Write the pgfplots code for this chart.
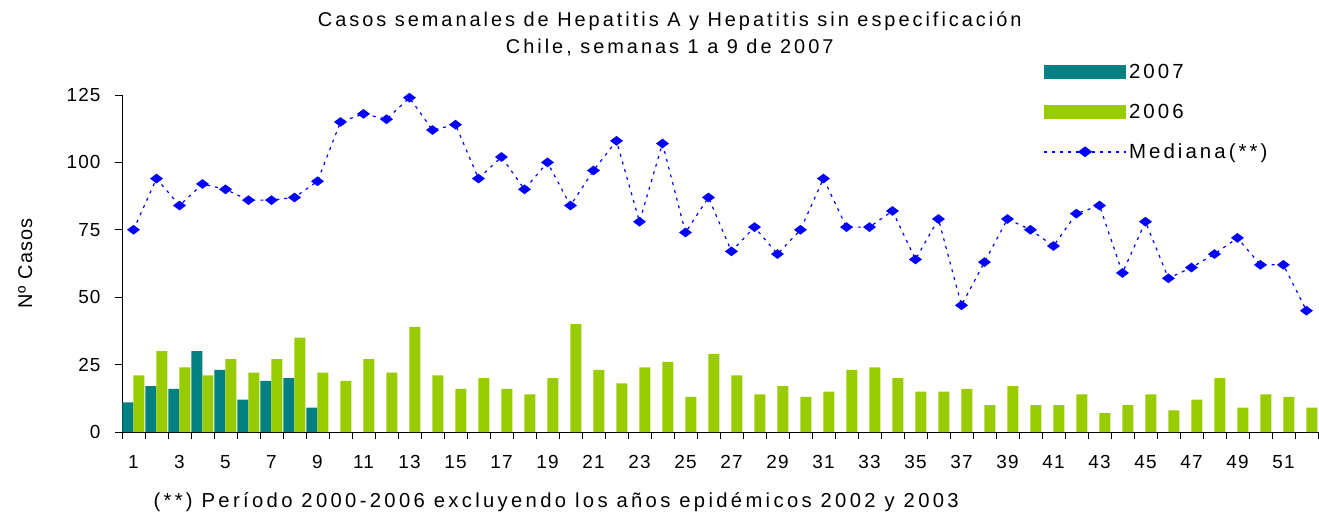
\documentclass[border=0pt]{standalone}
\usepackage{fontspec}
\setmainfont{Liberation Sans}[LetterSpace=6]
\newfontfamily\wide{Liberation Sans}[LetterSpace=15]
\newfontfamily\wider{Liberation Sans}[LetterSpace=16.5]
\usepackage{pgfplots}
\usepackage{pgfplotstable}
\pgfplotsset{compat=1.18}
\definecolor{c07}{HTML}{008080}
\definecolor{c06}{HTML}{99CC00}
\definecolor{cmed}{HTML}{0000FF}
\pgfplotsset{
  leg07/.style={legend image code/.code={\fill[c07] (0bp,-7bp) rectangle (82bp,7bp);}},
  leg06/.style={legend image code/.code={\fill[c06] (0bp,-7bp) rectangle (82bp,7bp);}},
  legmed/.style={legend image code/.code={\draw[mark repeat=2, mark phase=2, ##1, line width=2bp] plot coordinates {(0bp,0bp) (41bp,0bp) (82bp,0bp)};}},
}
\pgfplotstableread{
w y7
1 11
2 17
3 16
4 30
5 23
6 12
7 19
8 20
9 9
}\tsiete
\pgfplotstableread{
w y6 med
1 21 75
2 30 94
3 24 84
4 21 92
5 27 90
6 22 86
7 27 86
8 35 87
9 22 93
10 19 115
11 27 118
12 22 116
13 39 124
14 21 112
15 16 114
16 20 94
17 16 102
18 14 90
19 20 100
20 40 84
21 23 97
22 18 108
23 24 78
24 26 107
25 13 74
26 29 87
27 21 67
28 14 76
29 17 66
30 13 75
31 15 94
32 23 76
33 24 76
34 20 82
35 15 64
36 15 79
37 16 47
38 10 63
39 17 79
40 10 75
41 10 69
42 14 81
43 7 84
44 10 59
45 14 78
46 8 57
47 12 61
48 20 66
49 9 72
50 14 62
51 13 62
52 9 45
}\tseis
\begin{document}
\begin{tikzpicture}
\useasboundingbox (0,0) rectangle (1319bp,514bp);
\begin{axis}[
  at={(122bp,82bp)}, anchor=south west,
  scale only axis, width=1196bp, height=337bp,
  xmin=0.5, xmax=52.5, ymin=0, ymax=125,
  axis lines*=left, axis line style={line width=1bp},
  clip=false,
  xtick={0.5,1.5,...,52.5}, xticklabels={},
  extra x ticks={1,3,...,51},
  extra x tick style={tick style={draw=none}},
  ytick={0,25,...,125},
  tick align=outside, major tick length=7bp,
  tick style={black, line width=0.8bp},
  /pgf/number format/assume math mode=true,
  tick label style={font=\fontsize{19}{22}\selectfont},
  yticklabel style={xshift=-11bp},
  xticklabel style={yshift=-13bp},
  ylabel={Nº Casos},
  ylabel style={at={(rel axis cs:-0.081,0.5)}, anchor=center, font=\fontsize{20}{24}\selectfont},
  title={Casos semanales de Hepatitis A y Hepatitis sin especificación\\Chile, semanas 1 a 9 de 2007},
  title style={at={(rel axis cs:0.458,1.163)}, anchor=center, align=center, font=\wide\fontsize{20}{27}\selectfont},
  legend style={at={(rel axis cs:0.770,1.098)}, anchor=north west, draw=none, fill=none,
    font=\wide\fontsize{20.5}{24}\selectfont, row sep=20bp, inner sep=0pt},
  legend cell align=left,
]
\addplot[ybar, bar width=11bp, bar shift=-5.5bp, fill=c07, draw=none, leg07]
  table[x=w, y=y7] {\tsiete};
\addlegendentry{2007}
\addplot[ybar, bar width=11bp, bar shift=5.5bp, fill=c06, draw=none, leg06]
  table[x=w, y=y6] {\tseis};
\addlegendentry{2006}
\addplot[cmed, line width=1.2bp, dash pattern=on 3bp off 5bp, mark=diamond*,
  mark size=5.5bp, mark options={solid, rotate=90, fill=cmed}, legmed]
  table[x=w, y=med] {\tseis};
\addlegendentry{Mediana(**)}
\node[anchor=west, font=\wider\fontsize{20.3}{24}\selectfont] at (rel axis cs:0.0234,-0.208)
  {(**) Período 2000-2006 excluyendo los años epidémicos 2002 y 2003};
\end{axis}
\end{tikzpicture}
\end{document}
